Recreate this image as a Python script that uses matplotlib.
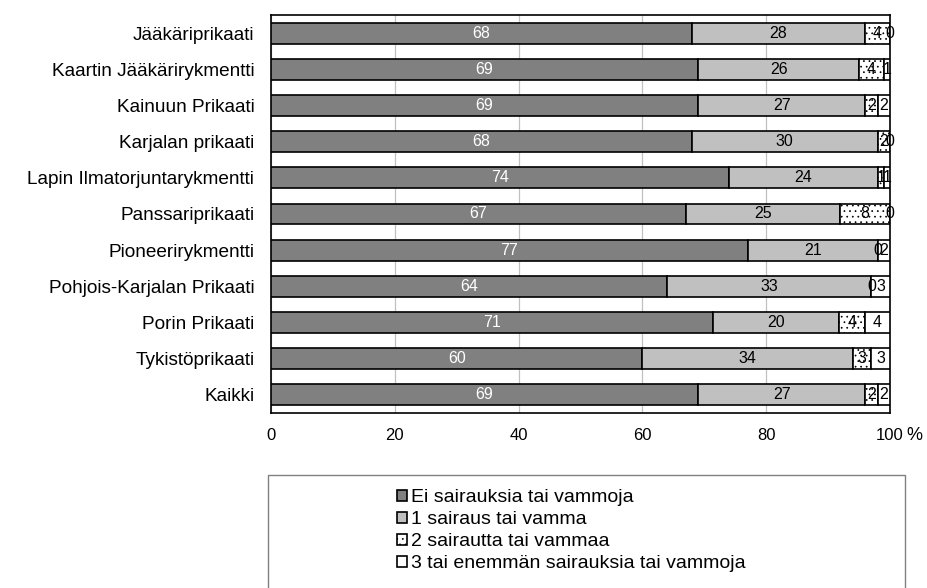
import matplotlib
matplotlib.use("Agg")
import matplotlib.pyplot as plt
from matplotlib.patches import Rectangle
import numpy as np

plt.rcParams['font.family'] = ['Liberation Sans', 'DejaVu Sans']
plt.rcParams['hatch.linewidth'] = 0.5

categories = ["Jääkäriprikaati", "Kaartin Jääkärirykmentti", "Kainuun Prikaati",
              "Karjalan prikaati", "Lapin Ilmatorjuntarykmentti", "Panssariprikaati",
              "Pioneerirykmentti", "Pohjois-Karjalan Prikaati", "Porin Prikaati",
              "Tykistöprikaati", "Kaikki"]
s0 = [68, 69, 69, 68, 74, 67, 77, 64, 71.4, 60, 69]
s1 = [28, 26, 27, 30, 24, 25, 21, 33, 20.4, 34, 27]
s2 = [4, 4, 2, 2, 1, 8, 0, 0, 4.2, 3, 2]
s3 = [0, 1, 2, 0, 1, 0, 2, 3, 4.0, 3, 2]
series_names = ["Ei sairauksia tai vammoja", "1 sairaus tai vamma",
                "2 sairautta tai vammaa", "3 tai enemmän sairauksia tai vammoja"]
xticks = [0, 20, 40, 60, 80, 100]

fig = plt.figure(figsize=(9.28, 5.88), dpi=100)
ax = fig.add_axes([271/928, 1-413/588, (890-271)/928, (413-15)/588])

y = np.arange(len(categories))
series = [s0, s1, s2, s3]
faces = ['#808080', '#c0c0c0', 'white', 'white']
hatches = [None, None, '...', None]
txtcol = ['white', 'black', 'black', 'black']
left = np.zeros(len(categories))
handles = []
for vals, fc, h, tc, name in zip(series, faces, hatches, txtcol, series_names):
    vals = np.array(vals, dtype=float)
    bars = ax.barh(y, vals, left=left, height=0.58, color=fc, edgecolor='black',
                   linewidth=1.2, hatch=h, label=name, zorder=3)
    handles.append(bars)
    for yi, l, v in zip(y, left, vals):
        ax.text(l + v/2, yi, f"{round(v):d}", ha='center', va='center',
                color=tc, fontsize=11.5, zorder=4)
    left = left + vals

ax.set_xlim(0, 100)
ax.set_ylim(len(categories) - 0.5, -0.5)
ax.set_yticks(y)
ax.set_yticklabels(categories, fontsize=13.7)
ax.set_xticks(xticks)
ax.set_xticklabels([str(t) for t in xticks], fontsize=12)
ax.tick_params(axis='y', length=0, pad=12)
ax.tick_params(axis='x', length=0, pad=11)
ax.grid(axis='x', color='#c0c0c0', linewidth=0.9, zorder=0)
for sp in ax.spines.values():
    sp.set_linewidth(1.2)
    sp.set_color('black')

fig.text(906/928, 1-435/588, "%", fontsize=13, ha='left', va='center')

# legend frame
fig.patches.append(Rectangle((268/928, -0.05), (905-268)/928, 1-475/588+0.05,
                             transform=fig.transFigure, fill=False,
                             edgecolor='#808080', linewidth=1.0))
leg = fig.legend(handles=handles, labels=series_names, loc='upper left',
                 bbox_to_anchor=(397/928, 1-489/588), frameon=False,
                 fontsize=14, handlelength=0.5, handleheight=0.5,
                 handletextpad=0.2, labelspacing=0.26, borderpad=0,
                 borderaxespad=0)
fig.savefig("out.png", dpi=100)
